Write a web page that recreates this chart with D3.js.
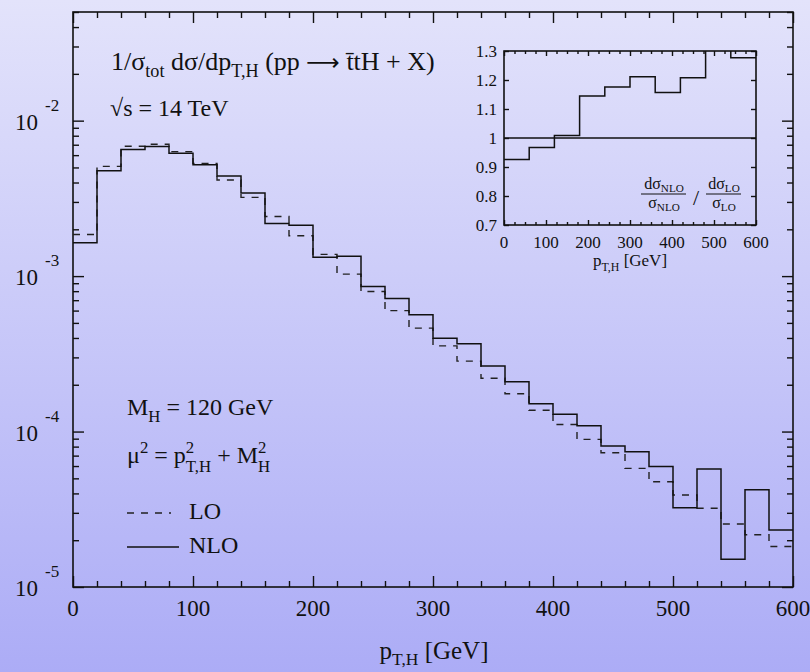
<!DOCTYPE html>
<html>
<head>
<meta charset="utf-8">
<script src="https://cdn.jsdelivr.net/npm/d3@7"></script>
<style>
body { margin: 0; }
svg text { font-family: "Liberation Serif", "Times New Roman", serif; fill: #111; }
</style>
</head>
<body>
<svg id="chart" width="810" height="672"></svg>
<script>
// lower edges of the 20 GeV bins (GeV)
var binEdges = [0, 20, 40, 60, 80, 100, 120, 140, 160, 180, 200, 220, 240, 260, 280,
  300, 320, 340, 360, 380, 400, 420, 440, 460, 480, 500, 520, 540, 560, 580];
var binEnd = 600;

// 1/sigma dsigma/dpT  (per GeV)
var loValues = [1.85e-3, 5.08e-3, 6.84e-3, 7.05e-3, 6.32e-3, 5.31e-3, 4.15e-3, 3.21e-3, 2.42e-3, 1.82e-3,
  1.38e-3, 1.03e-3, 7.96e-4, 6.0e-4, 4.63e-4, 3.56e-4, 2.84e-4, 2.2e-4, 1.75e-4, 1.37e-4,
  1.11e-4, 8.9e-5, 7.31e-5, 5.8e-5, 4.75e-5, 3.91e-5, 3.21e-5, 2.54e-5, 2.17e-5, 1.82e-5];
var nloValues = [1.64e-3, 4.76e-3, 6.53e-3, 6.81e-3, 6.16e-3, 5.21e-3, 4.41e-3, 3.43e-3, 2.18e-3, 2.12e-3,
  1.32e-3, 1.34e-3, 8.57e-4, 7.17e-4, 5.64e-4, 3.99e-4, 3.67e-4, 2.64e-4, 2.09e-4, 1.51e-4,
  1.29e-4, 1.09e-4, 8.07e-5, 7.42e-5, 5.97e-5, 3.24e-5, 5.74e-5, 1.51e-5, 4.23e-5, 2.33e-5];

// inset: NLO/LO shape ratio in 60 GeV bins
var ratioEdges = [0, 60, 120, 180, 240, 300, 360, 420, 480, 540];
var ratioValues = [0.926, 0.967, 1.009, 1.145, 1.176, 1.211, 1.157, 1.208, 1.34, 1.277];

// tick values
var xTicks = [0, 100, 200, 300, 400, 500, 600];
var yDecades = [-5, -4, -3, -2];
var insetXTicks = [0, 100, 200, 300, 400, 500, 600];
var insetYTicks = [0.7, 0.8, 0.9, 1, 1.1, 1.2, 1.3];

var svg = d3.select("#chart");

// background
var grad = svg.append("defs").append("linearGradient")
  .attr("id", "bg").attr("x1", 0).attr("y1", 0).attr("x2", 0).attr("y2", 1);
grad.append("stop").attr("offset", "0%").attr("stop-color", "#e3e3fb");
grad.append("stop").attr("offset", "100%").attr("stop-color", "#acacf6");
svg.append("rect").attr("width", 810).attr("height", 672).attr("fill", "url(#bg)");

// text with sub/superscripts: [text, shift, scale, dx, family]
function rich(sel, x, y, parts, size, anchor) {
  var t = sel.append("text").attr("x", x).attr("y", y).attr("font-size", size);
  if (anchor) t.attr("text-anchor", anchor);
  var cur = 0;
  parts.forEach(function(p) {
    var sh = p[1] || 0;
    var ts = t.append("tspan").text(p[0]).attr("dy", sh - cur);
    cur = sh;
    if (p[2]) ts.attr("font-size", size * p[2]);
    if (p[3]) ts.attr("dx", p[3]);
    if (p[4]) ts.style("font-family", p[4]);
  });
  return t;
}

// ---------- main plot ----------
var x = d3.scaleLinear().domain([0, 600]).range([73, 793]);
var y = d3.scaleLog().domain([1e-5, 0.05]).range([587, 12]);

var xMinor = d3.range(0, 601, 20).filter(d => d % 100 != 0);
var yMinor = [];
yDecades.forEach(function(d) {
  for (var k = 2; k <= 9; k++) {
    var v = k * Math.pow(10, d);
    if (v <= 0.05) yMinor.push(v);
  }
});
var yMajor = yDecades.map(d => Math.pow(10, d));

function tickAxes(g, xs, ys, xMaj, xMin, yMaj, yMin, big, small) {
  var x0 = xs.range()[0], x1 = xs.range()[1], y0 = ys.range()[0], y1 = ys.range()[1];
  [[d3.axisBottom, y0], [d3.axisTop, y1]].forEach(function(a) {
    g.append("g").attr("transform", `translate(0,${a[1]})`)
      .call(a[0](xs).tickValues(xMaj).tickSize(-big).tickFormat(""));
    g.append("g").attr("transform", `translate(0,${a[1]})`)
      .call(a[0](xs).tickValues(xMin).tickSize(-small).tickFormat(""));
  });
  [[d3.axisLeft, x0], [d3.axisRight, x1]].forEach(function(a) {
    g.append("g").attr("transform", `translate(${a[1]},0)`)
      .call(a[0](ys).tickValues(yMaj).tickSize(-big).tickFormat(""));
    g.append("g").attr("transform", `translate(${a[1]},0)`)
      .call(a[0](ys).tickValues(yMin).tickSize(-small).tickFormat(""));
  });
  g.selectAll(".domain").remove();
  g.selectAll(".tick line").attr("stroke", "#111").attr("stroke-width", 1.4);
  g.append("rect").attr("x", x0).attr("y", y1).attr("width", x1 - x0).attr("height", y0 - y1)
    .attr("fill", "none").attr("stroke", "#111").attr("stroke-width", 1.6);
}

var main = svg.append("g");
tickAxes(main, x, y, xTicks, xMinor, yMajor, yMinor, 11, 6);

// x tick labels
main.selectAll(".xlab").data(xTicks).enter().append("text")
  .attr("x", d => x(d)).attr("y", 616).attr("text-anchor", "middle")
  .attr("font-size", 23).text(d => d);

// y tick labels 10^n
yDecades.forEach(function(d) {
  var yy = y(Math.pow(10, d));
  main.append("text").attr("x", 15).attr("y", yy + 9).attr("font-size", 23).text("10");
  main.append("text").attr("x", 45).attr("y", yy - 10).attr("font-size", 17).text("-" + Math.abs(d));
});

// histograms
function stepPoints(edges, vals, end) {
  var pts = edges.map((e, i) => [e, vals[i]]);
  pts.push([end, vals[vals.length - 1]]);
  return pts;
}
var line = d3.line().x(d => x(d[0])).y(d => y(d[1])).curve(d3.curveStepAfter);

main.append("path").datum(stepPoints(binEdges, loValues, binEnd))
  .attr("d", line).attr("fill", "none").attr("stroke", "#222")
  .attr("stroke-width", 1.4).attr("stroke-dasharray", "7,7");
main.append("path").datum(stepPoints(binEdges, nloValues, binEnd))
  .attr("d", line).attr("fill", "none").attr("stroke", "#111").attr("stroke-width", 1.5);

// annotations
rich(main, 111, 70, [["1/σ"], ["tot", 7, 0.7], [" dσ/dp", 0], ["T,H", 7, 0.7], [" (pp ", 0],
  ["\u27F6", 0, 0.9, 0, "DejaVu Sans"], ["\u00A0t\u0304tH + X)", 0]], 26);
rich(main, 110, 116, [["√s = 14 TeV"]], 24);
rich(main, 127, 415, [["M"], ["H", 7, 0.7], [" = 120 GeV", 0]], 24);
rich(main, 127, 463, [["μ"], ["2", -10, 0.7], [" = p", 0], ["2", -10, 0.7], ["T,H", 9, 0.7, -8.4],
  [" + M", 0], ["2", -10, 0.7], ["H", 9, 0.7, -8.4]], 24);

// legend
main.append("line").attr("x1", 127).attr("x2", 171).attr("y1", 513).attr("y2", 513)
  .attr("stroke", "#222").attr("stroke-width", 1.4).attr("stroke-dasharray", "7,7");
main.append("text").attr("x", 189).attr("y", 519).attr("font-size", 24).text("LO");
main.append("line").attr("x1", 127).attr("x2", 179).attr("y1", 547).attr("y2", 547)
  .attr("stroke", "#111").attr("stroke-width", 1.5);
main.append("text").attr("x", 189).attr("y", 553).attr("font-size", 24).text("NLO");

// x axis title
rich(main, 434, 659, [["p"], ["T,H", 6, 0.7], [" [GeV]", 0]], 25, "middle");

// ---------- inset ----------
var xi = d3.scaleLinear().domain([0, 600]).range([504, 756]);
var yi = d3.scaleLinear().domain([0.7, 1.3]).range([225, 51]);
var inset = svg.append("g");

svg.select("defs").append("clipPath").attr("id", "insetClip").append("rect")
  .attr("x", 504).attr("y", 51).attr("width", 252).attr("height", 174);

tickAxes(inset, xi, yi, insetXTicks, d3.range(0, 601, 25).filter(d => d % 100 != 0),
  insetYTicks, [], 5, 3);

inset.selectAll(".ixl").data(insetXTicks).enter().append("text")
  .attr("x", d => xi(d)).attr("y", 248).attr("text-anchor", "middle")
  .attr("font-size", 17).text(d => d);
inset.selectAll(".iyl").data(insetYTicks).enter().append("text")
  .attr("x", 497).attr("y", d => yi(d) + 6).attr("text-anchor", "end")
  .attr("font-size", 17).text(d => d3.format("")(d));

inset.append("line").attr("x1", xi(0)).attr("x2", xi(600)).attr("y1", yi(1)).attr("y2", yi(1))
  .attr("stroke", "#111").attr("stroke-width", 1.5);

var iline = d3.line().x(d => xi(d[0])).y(d => yi(d[1])).curve(d3.curveStepAfter);
inset.append("path").datum(stepPoints(ratioEdges, ratioValues, 600))
  .attr("d", iline).attr("fill", "none").attr("stroke", "#111").attr("stroke-width", 1.5)
  .attr("clip-path", "url(#insetClip)");

rich(inset, 630, 266, [["p"], ["T,H", 5, 0.7], [" [GeV]", 0]], 17, "middle");

// fraction label
rich(inset, 664, 189, [["dσ"], ["NLO", 3, 0.7]], 16, "middle");
rich(inset, 664, 208, [["σ"], ["NLO", 3, 0.7]], 16, "middle");
inset.append("line").attr("x1", 641).attr("x2", 686).attr("y1", 194).attr("y2", 194)
  .attr("stroke", "#111").attr("stroke-width", 1);
inset.append("text").attr("x", 696).attr("y", 205).attr("text-anchor", "middle")
  .attr("font-size", 22).text("/");
rich(inset, 724, 189, [["dσ"], ["LO", 3, 0.7]], 16, "middle");
rich(inset, 724, 208, [["σ"], ["LO", 3, 0.7]], 16, "middle");
inset.append("line").attr("x1", 706).attr("x2", 741).attr("y1", 194).attr("y2", 194)
  .attr("stroke", "#111").attr("stroke-width", 1);
</script>
</body>
</html>
